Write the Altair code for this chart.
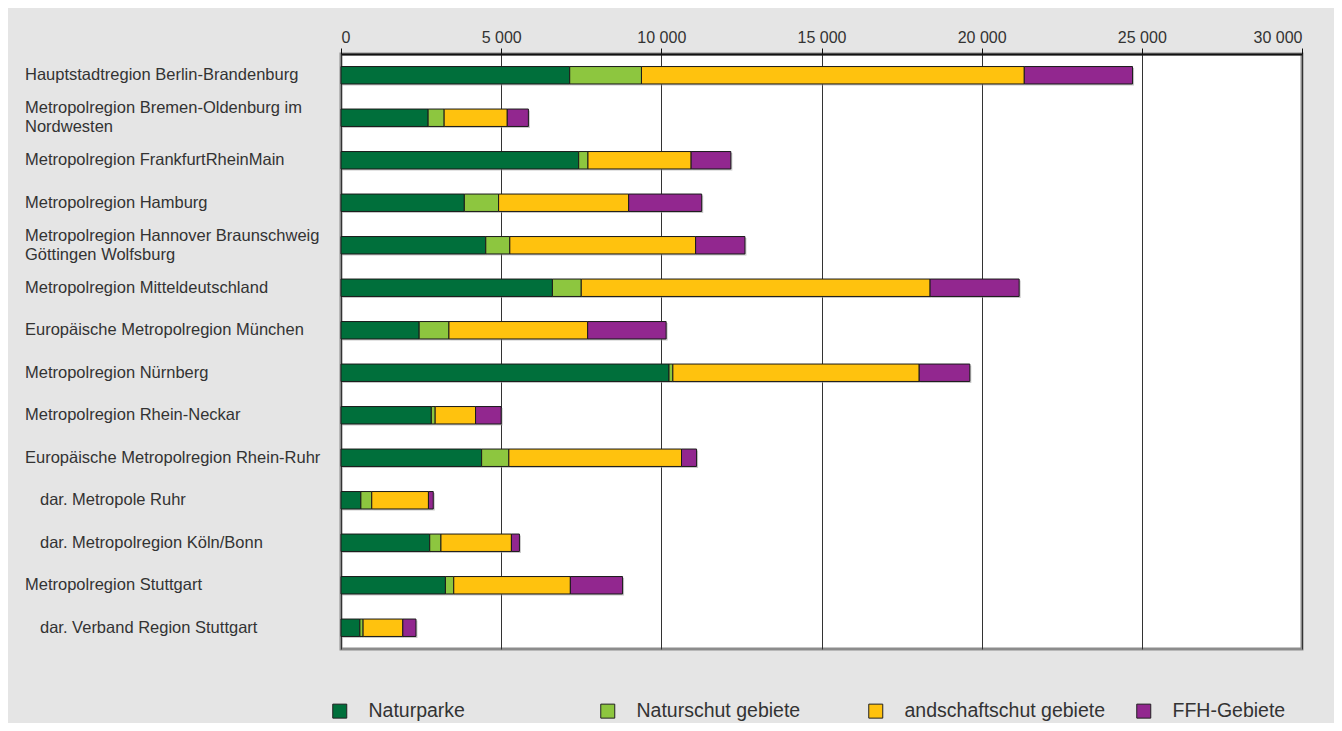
import altair as alt
import pandas as pd

regions = [
    "Hauptstadtregion Berlin-Brandenburg",
    "Metropolregion Bremen-Oldenburg im|Nordwesten",
    "Metropolregion FrankfurtRheinMain",
    "Metropolregion Hamburg",
    "Metropolregion Hannover Braunschweig|Göttingen Wolfsburg",
    "Metropolregion Mitteldeutschland",
    "Europäische Metropolregion München",
    "Metropolregion Nürnberg",
    "Metropolregion Rhein-Neckar",
    "Europäische Metropolregion Rhein-Ruhr",
    "dar. Metropole Ruhr",
    "dar. Metropolregion Köln/Bonn",
    "Metropolregion Stuttgart",
    "dar. Verband Region Stuttgart",
]

series = [
    "Naturparke",
    "Naturschut gebiete",
    "\u00a0\u00a0andschaftschut gebiete",
    "FFH-Gebiete",
]
colors = ["#006f3b", "#8dc63f", "#ffc20e", "#92278f"]

naturparke = [7140, 2720, 7420, 3850, 4520, 6600, 2440, 10240, 2820, 4390, 620, 2770, 3260, 590]
naturschutz = [2240, 500, 290, 1070, 750, 900, 930, 120, 120, 850, 340, 350, 260, 100]
landschaftsschutz = [11950, 1970, 3220, 4060, 5800, 10890, 4330, 7690, 1260, 5390, 1770, 2200, 3640, 1240]
ffh = [3380, 660, 1240, 2280, 1540, 2780, 2450, 1580, 800, 470, 150, 250, 1630, 410]

x_ticks = [0, 5000, 10000, 15000, 20000, 25000, 30000]

rows = []
for vals_i, vals in enumerate([naturparke, naturschutz, landschaftsschutz, ffh]):
    for r, v in zip(regions, vals):
        rows.append({"region": r, "series": series[vals_i], "order": vals_i, "value": v})
df = pd.DataFrame(rows)

lab_rows = []
for r in regions:
    parts = r.split("|")
    lab_rows.append({
        "region": r,
        "line1": parts[0],
        "line2": parts[1] if len(parts) > 1 else "",
        "nlines": len(parts),
        "indent": 1 if r.startswith("dar.") else 0,
    })
labels_df = pd.DataFrame(lab_rows)

FONT = "Liberation Sans"

x_enc = alt.X(
    "sum(value):Q",
    stack="zero",
    scale=alt.Scale(domain=[0, 30000], nice=False, zero=True),
    axis=alt.Axis(
        orient="top",
        values=x_ticks,
        title=None,
        grid=True,
        gridColor="#333333",
        gridWidth=1,
        domainColor="#111111",
        domainWidth=2,
        tickColor="#111111",
        tickSize=6,
        labelFontSize=16,
        labelColor="#333333",
        labelFont=FONT,
        labelPadding=3,
        labelExpr="replace(format(datum.value, ','), ',', ' ')",
    ),
)

y_scale = alt.Scale(paddingInner=0.59, paddingOuter=0.295)

y_enc = alt.Y(
    "region:N",
    sort=regions,
    scale=y_scale,
    axis=alt.Axis(
        title=None,
        labels=False,
        domainColor="#555555",
        domainWidth=2,
        tickColor="#555555",
        tickWidth=1.5,
        tickSize=11,
        tickOffset=21.25,
    ),
)

y_plain = alt.Y("region:N", sort=regions, scale=y_scale, axis=None)

shadow = alt.Chart(df).mark_bar(color="#9a9a9a", opacity=0.55, xOffset=1.5, yOffset=1.5).encode(
    x=x_enc,
    y=y_enc,
    order=alt.Order("order:Q"),
    detail="series:N",
)

bars = alt.Chart(df).mark_bar(stroke="#1a1a1a", strokeWidth=1).encode(
    x=x_enc,
    y=y_enc,
    color=alt.Color(
        "series:N",
        scale=alt.Scale(domain=series, range=colors),
        legend=alt.Legend(
            title=None,
            orient="none",
            legendX=-11,
            legendY=647,
            direction="horizontal",
            columns=4,
            gridAlign="all",
            columnPadding=28,
            symbolType="square",
            symbolSize=196,
            symbolStrokeColor="#222222",
            symbolStrokeWidth=1,
            labelOffset=19,
            labelFontSize=19.5,
            labelFont=FONT,
            labelColor="#333333",
            labelLimit=400,
        ),
    ),
    order=alt.Order("order:Q"),
)

text_style = dict(align="left", baseline="middle", font=FONT, fontSize=16.5, color="#333333")

lab_single = alt.Chart(labels_df).transform_filter(
    "datum.nlines == 1 && datum.indent == 0"
).mark_text(**text_style).encode(y=y_plain, x=alt.value(-316), text="line1:N")

lab_indent = alt.Chart(labels_df).transform_filter(
    "datum.nlines == 1 && datum.indent == 1"
).mark_text(dx=15, **text_style).encode(y=y_plain, x=alt.value(-316), text="line1:N")

lab_first = alt.Chart(labels_df).transform_filter("datum.nlines == 2").mark_text(
    dy=-9.5, **text_style
).encode(y=y_plain, x=alt.value(-316), text="line1:N")

lab_second = alt.Chart(labels_df).transform_filter("datum.nlines == 2").mark_text(
    dy=9.5, **text_style
).encode(y=y_plain, x=alt.value(-316), text="line2:N")

chart = (
    alt.layer(shadow, bars, lab_single, lab_indent, lab_first, lab_second)
    .properties(
        width=961,
        height=595,
        padding={"left": 333, "top": 46, "right": 32, "bottom": 74},
        autosize=alt.AutoSizeParams(type="none"),
        background="#e5e5e5",
    )
    .configure_view(fill="white", stroke="#8c8c8c", strokeWidth=3)
)

chart.save("out.html", embed_options={"renderer": "svg", "actions": False})
